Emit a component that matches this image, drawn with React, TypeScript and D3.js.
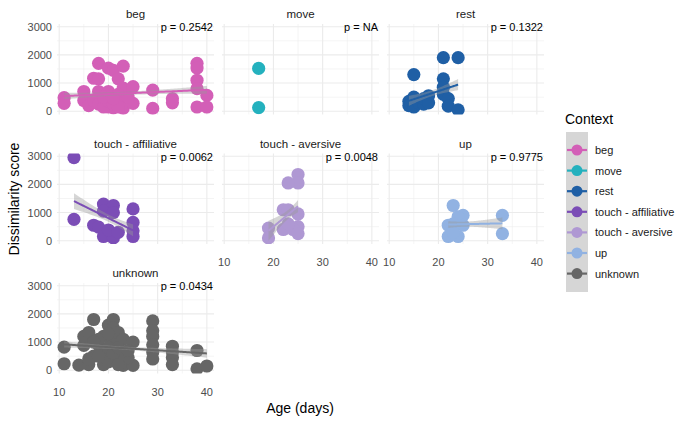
import React from "react";
import * as d3 from "d3";

const contexts = ["beg", "move", "rest", "touch - affiliative", "touch - aversive", "up", "unknown"];
const colors = ["#D35FB7", "#24B1BE", "#1F5FA5", "#7B4DB6", "#AF98D3", "#91B2E2", "#666666"];
const pLabels = ["p = 0.2542", "p = NA", "p = 0.1322", "p = 0.0062", "p = 0.0048", "p = 0.9775", "p = 0.0434"];

const begAge = [11, 11, 15, 15, 16, 17, 18, 18, 18, 20, 21, 23, 22, 23, 25, 20, 22, 19, 17, 20, 22, 21, 23, 25, 24, 29, 29, 33, 33, 38, 38, 38, 38, 38, 40, 40, 18, 19, 20, 21, 22, 19, 21];
const begVal = [480, 280, 700, 380, 200, 1170, 1700, 1150, 700, 1530, 1450, 1600, 1150, 820, 870, 700, 600, 350, 380, 150, 300, 120, 100, 280, 500, 750, 100, 450, 300, 1700, 1530, 1100, 800, 150, 560, 150, 250, 150, 350, 250, 150, 500, 450];

const moveAge = [17, 17];
const moveVal = [1520, 130];

const restAge = [14, 14, 15, 15, 15, 16, 17, 17, 18, 18, 21, 21, 21, 21, 22, 22, 24, 24];
const restVal = [350, 200, 500, 1300, 150, 300, 250, 450, 550, 300, 1900, 1150, 850, 600, 450, 180, 1900, 50];

const affAge = [13, 13, 17, 19, 21, 19, 21, 18, 19, 21, 20, 25, 25, 25, 25, 22];
const affVal = [2950, 760, 550, 1300, 1250, 1050, 1000, 480, 150, 100, 380, 1130, 650, 350, 150, 300];

const aveAge = [25, 25, 23, 19, 19, 22, 23, 25, 25, 22, 24, 23, 25];
const aveVal = [2350, 2050, 2050, 450, 100, 1100, 1100, 950, 500, 400, 400, 600, 250];

const upAge = [23, 22, 22, 24, 25, 24, 23, 25, 23, 33, 33];
const upVal = [1250, 550, 150, 150, 900, 850, 600, 550, 300, 900, 250];

const unkAge = [11, 11, 14, 15, 15, 16, 17, 16, 17, 18, 19, 19, 20, 21, 21, 21, 22, 23, 23, 25, 25, 24, 22, 20, 18, 17, 19, 20, 21, 22, 29, 29, 29, 29, 29, 29, 33, 33, 33, 33, 38, 38, 40, 16, 18, 20, 22, 24];
const unkVal = [820, 230, 180, 880, 1200, 1340, 1800, 200, 500, 900, 200, 1200, 1600, 1800, 1500, 1000, 1340, 1100, 170, 1000, 170, 450, 450, 300, 1100, 1000, 700, 800, 600, 200, 1750, 1400, 1200, 900, 650, 400, 850, 650, 450, 200, 700, 50, 150, 400, 500, 1300, 800, 700];

const ages = [begAge, moveAge, restAge, affAge, aveAge, upAge, unkAge];
const vals = [begVal, moveVal, restVal, affVal, aveVal, upVal, unkVal];

const xTicks = [10, 20, 30, 40];
const xMinor = [15, 25, 35];
const yTicks = [0, 1000, 2000, 3000];
const yMinor = [500, 1500, 2500];

const FONT = "'Liberation Sans', Arial, Helvetica, sans-serif";
const colLeft = [57, 222, 387];
const rowTop = [24, 153.5, 283];
const PW = 157;
const PH = 90.5;
const BAND_Z = 0.8;

const x = d3.scaleLinear().domain([9.55, 41.45]).range([0, PW]);
const y = d3.scaleLinear().domain([-116, 3096]).range([PH, 0]);

function fit(xs: number[], ys: number[]) {
  const n = xs.length;
  const xm = d3.mean(xs)!;
  const ym = d3.mean(ys)!;
  let sxx = 0, sxy = 0;
  for (let i = 0; i < n; i++) {
    sxx += (xs[i] - xm) ** 2;
    sxy += (xs[i] - xm) * (ys[i] - ym);
  }
  if (sxx === 0 || n < 3) return null;
  const b = sxy / sxx;
  const a = ym - b * xm;
  let sse = 0;
  for (let i = 0; i < n; i++) sse += (ys[i] - a - b * xs[i]) ** 2;
  const s = Math.sqrt(sse / (n - 2));
  const [lo, hi] = d3.extent(xs) as [number, number];
  return d3.range(0, 81).map((k) => {
    const xv = lo + ((hi - lo) * k) / 80;
    const fv = a + b * xv;
    const se = s * Math.sqrt(1 / n + (xv - xm) ** 2 / sxx);
    return { x: xv, y: fv, lo: fv - BAND_Z * se, hi: fv + BAND_Z * se };
  });
}

export default function App() {
  const line = d3.line<any>().x((d) => x(d.x)).y((d) => y(d.y));
  const area = d3.area<any>().x((d) => x(d.x)).y0((d) => y(d.lo)).y1((d) => y(d.hi));

  const panels = contexts.map((c, i) => {
    const col = i % 3;
    const row = Math.floor(i / 3);
    const tx = colLeft[col];
    const ty = rowTop[row];
    const showX = i >= 4;
    const showY = col === 0;
    const f = fit(ages[i], vals[i]);
    return (
      <g key={c} transform={`translate(${tx},${ty})`}>
        <defs>
          <clipPath id={`clip${i}`}>
            <rect x={0} y={0} width={PW} height={PH} />
          </clipPath>
        </defs>
        {xMinor.map((t) => (
          <line key={"xm" + t} x1={x(t)} x2={x(t)} y1={0} y2={PH} stroke="#EBEBEB" strokeWidth={0.55} />
        ))}
        {yMinor.map((t) => (
          <line key={"ym" + t} x1={0} x2={PW} y1={y(t)} y2={y(t)} stroke="#EBEBEB" strokeWidth={0.55} />
        ))}
        {xTicks.map((t) => (
          <line key={"xg" + t} x1={x(t)} x2={x(t)} y1={0} y2={PH} stroke="#EBEBEB" strokeWidth={1.1} />
        ))}
        {yTicks.map((t) => (
          <line key={"yg" + t} x1={0} x2={PW} y1={y(t)} y2={y(t)} stroke="#EBEBEB" strokeWidth={1.1} />
        ))}
        <g clipPath={`url(#clip${i})`}>
          {ages[i].map((a, k) => (
            <circle key={k} cx={x(a)} cy={y(vals[i][k])} r={6.6} fill={colors[i]} />
          ))}
          {f && <path d={area(f)!} fill="#999999" fillOpacity={0.4} />}
          {f && <path d={line(f)!} fill="none" stroke={colors[i]} strokeWidth={2} />}
        </g>
        <text x={PW / 2} y={-6} textAnchor="middle" fontFamily={FONT} fontSize={11.5} fill="#1A1A1A">
          {c}
        </text>
        <text x={PW - 1} y={7} textAnchor="end" fontFamily={FONT} fontSize={11} fill="#000">
          {pLabels[i]}
        </text>
        {showY &&
          yTicks.map((t) => (
            <text key={"yl" + t} x={-5} y={y(t) + 4} textAnchor="end" fontFamily={FONT} fontSize={11} fill="#4D4D4D">
              {t}
            </text>
          ))}
        {showX &&
          xTicks.map((t) => (
            <text key={"xl" + t} x={x(t)} y={PH + 22} textAnchor="middle" fontFamily={FONT} fontSize={11} fill="#4D4D4D">
              {t}
            </text>
          ))}
      </g>
    );
  });

  const legY0 = 150;
  const legStep = 20.6;

  return (
    <svg width={685} height={423} style={{ position: "absolute", left: 0, top: 0, background: "#fff" }}>
      <rect width={685} height={423} fill="#fff" />
      {panels}
      <text x={300} y={413} textAnchor="middle" fontFamily={FONT} fontSize={14} fill="#000">
        Age (days)
      </text>
      <text transform="translate(19,199) rotate(-90)" textAnchor="middle" fontFamily={FONT} fontSize={14} fill="#000">
        Dissimilarity score
      </text>
      <text x={565} y={124} fontFamily={FONT} fontSize={14} fill="#000">
        Context
      </text>
      <rect x={566} y={132} width={22} height={160} fill="#D6D6D6" />
      {contexts.map((c, i) => {
        const cy = legY0 + i * legStep;
        return (
          <g key={"leg" + c}>
            <circle cx={577} cy={cy} r={5.5} fill={colors[i]} />
            <line x1={567} x2={587} y1={cy} y2={cy} stroke={colors[i]} strokeWidth={2.2} />
            <text x={595} y={cy + 4} fontFamily={FONT} fontSize={11} fill="#1A1A1A">
              {c}
            </text>
          </g>
        );
      })}
    </svg>
  );
}
